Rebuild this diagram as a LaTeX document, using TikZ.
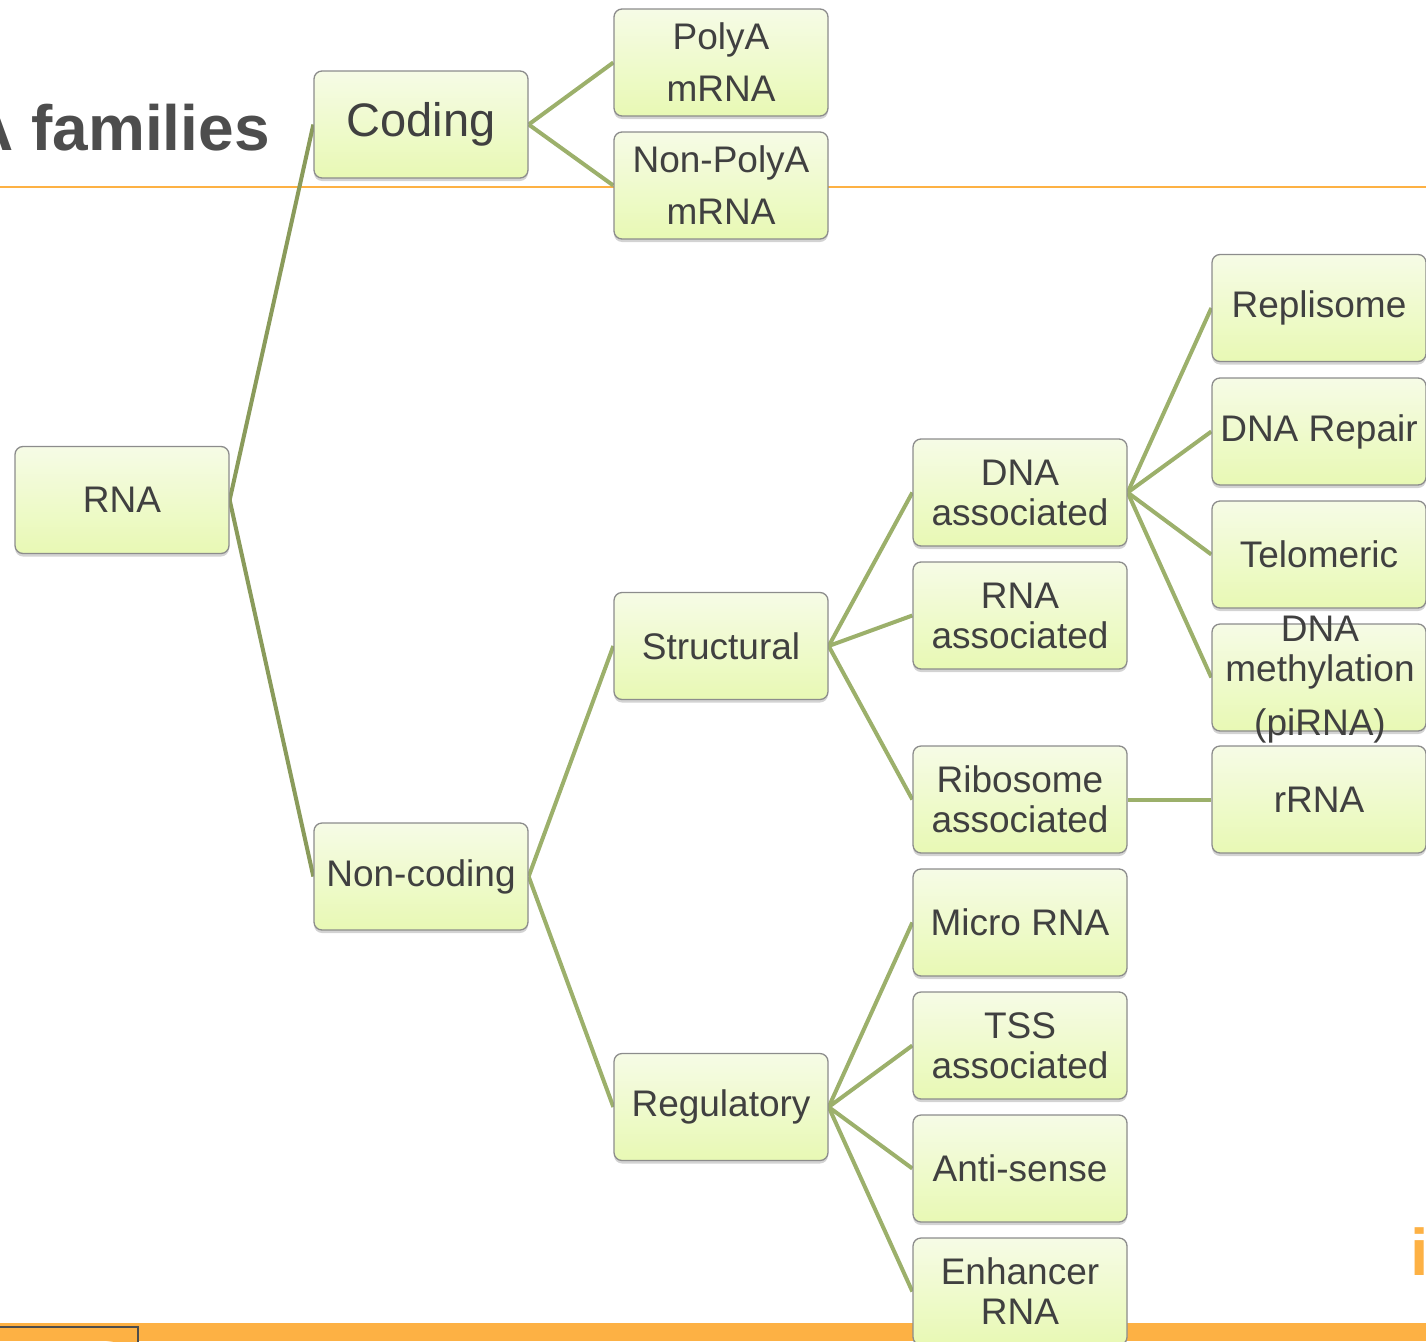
\documentclass[tikz,border=0pt]{standalone}
\usepackage{fontspec}
\setmainfont{Liberation Sans}
\usetikzlibrary{shadows,backgrounds}
\definecolor{txt}{HTML}{404040}
\definecolor{ttl}{HTML}{4D4D4D}
\definecolor{conn}{HTML}{9CB06B}
\definecolor{connd}{HTML}{8A9B5B}
\definecolor{orng}{HTML}{FDB144}
\definecolor{boxtop}{HTML}{F6FBE6}
\definecolor{boxbot}{HTML}{E8F9B4}
\tikzset{
  gbox/.style={draw=gray!90, line width=1.3pt, rounded corners=8pt,
    top color=boxtop, bottom color=boxbot,
    drop shadow={opacity=0.35, shadow xshift=0pt, shadow yshift=-3pt},
    minimum width=214pt, minimum height=107pt, inner sep=0pt,
    align=center, text=txt, font=\fontsize{37}{40}\selectfont},
  wide/.style={font=\fontsize{37}{52}\selectfont},
  link/.style={conn, line width=4pt},
  rootlink/.style={connd, line width=4pt}
}
\begin{document}
\begin{tikzpicture}[x=1pt,y=-1pt]
\useasboundingbox (0,0) rectangle (1426,1341);
\clip (0,0) rectangle (1426,1341);
% title and rules
\node[anchor=base east, inner sep=0pt, text=ttl, font=\fontsize{64}{70}\selectfont\bfseries] (title) at (270,150) {RNA families};
\fill[orng] (0,1323) rectangle (1426,1341);
\draw[ttl, line width=2pt, fill=orng] (-2,1327) -- (138,1327) -- (138,1345);
\node[anchor=base west, inner sep=0pt, text=orng, font=\fontsize{66}{70}\selectfont\bfseries] (logo) at (1410,1275) {i};
% nodes
\node[gbox] (rna) at (122,500) {RNA};
\node[gbox, font=\fontsize{47}{52}\selectfont] (coding) at (421,124.5) {Coding};
\node[gbox] (noncoding) at (421,876.5) {Non-coding};
\node[gbox, wide] (polya) at (721,62.5) {PolyA\\mRNA};
\node[gbox, wide] (nonpolya) at (721,185.5) {Non-PolyA\\mRNA};
\node[gbox] (structural) at (721,646) {Structural};
\node[gbox] (regulatory) at (721,1107) {Regulatory};
\node[gbox] (dnaassoc) at (1020,492.5) {DNA\\associated};
\node[gbox] (rnaassoc) at (1020,615.5) {RNA\\associated};
\node[gbox] (riboassoc) at (1020,799.5) {Ribosome\\associated};
\node[gbox] (micro) at (1020,922.5) {Micro RNA};
\node[gbox] (tss) at (1020,1045.5) {TSS\\associated};
\node[gbox] (antisense) at (1020,1168.5) {Anti-sense};
\node[gbox] (enhancer) at (1020,1291.5) {Enhancer\\RNA};
\node[gbox] (replisome) at (1319,308) {Replisome};
\node[gbox] (dnarepair) at (1319,431.5) {DNA Repair};
\node[gbox] (telomeric) at (1319,554.5) {Telomeric};
\node[gbox, text height=0pt, text depth=0pt] (methyl) at (1319,677.5) {};
\node[align=center, text=txt, inner sep=0pt, font=\fontsize{37}{40}\selectfont] (methyltext) at (1320,680) {DNA\\methylation\\[14pt](piRNA)};
\node[gbox] (rrna) at (1319,799.5) {rRNA};
% connectors and orange rule behind the boxes
\begin{scope}[on background layer]
\draw[orng, line width=2.5pt] (0,187) -- (1426,187);
\draw[rootlink] (rna.east) -- (coding.west);
\draw[rootlink] (rna.east) -- (noncoding.west);
\draw[link] (coding.east) -- (polya.west);
\draw[link] (coding.east) -- (nonpolya.west);
\draw[link] (noncoding.east) -- (structural.west);
\draw[link] (noncoding.east) -- (regulatory.west);
\draw[link] (structural.east) -- (dnaassoc.west);
\draw[link] (structural.east) -- (rnaassoc.west);
\draw[link] (structural.east) -- (riboassoc.west);
\draw[link] (regulatory.east) -- (micro.west);
\draw[link] (regulatory.east) -- (tss.west);
\draw[link] (regulatory.east) -- (antisense.west);
\draw[link] (regulatory.east) -- (enhancer.west);
\draw[link] (dnaassoc.east) -- (replisome.west);
\draw[link] (dnaassoc.east) -- (dnarepair.west);
\draw[link] (dnaassoc.east) -- (telomeric.west);
\draw[link] (dnaassoc.east) -- (methyl.west);
\draw[link] (riboassoc.east) -- (rrna.west);
\end{scope}
\end{tikzpicture}
\end{document}
